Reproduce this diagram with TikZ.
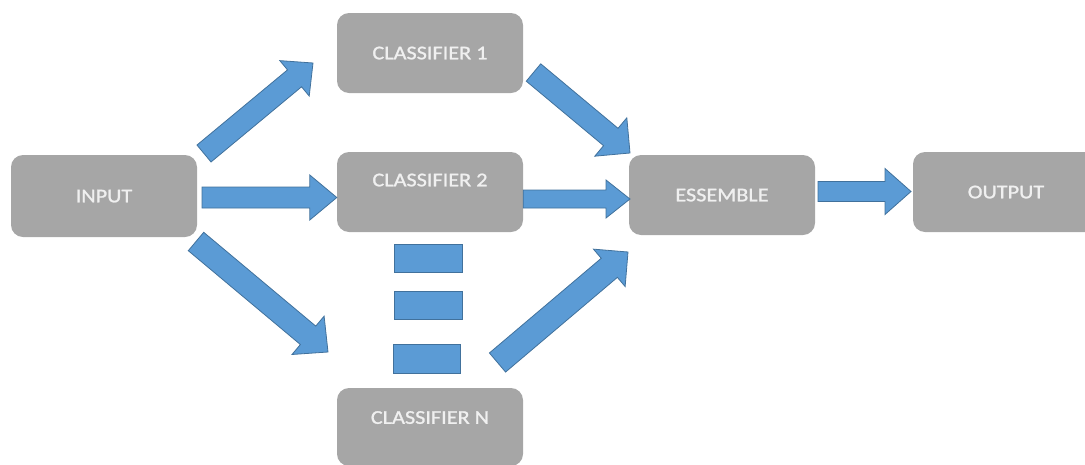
\documentclass[tikz,border=0pt]{standalone}
\usepackage{fontspec}
\usetikzlibrary{calc}
\newfontfamily\boxfont[FakeStretch=1.14, FakeBold=1.2]{Carlito}

\definecolor{boxgray}{HTML}{A6A6A6}
\definecolor{boxtext}{HTML}{F0F0F0}
\definecolor{arrowfill}{HTML}{5B9BD5}
\definecolor{arrowline}{HTML}{41719C}

% block arrow: #1 tail, #2 tip, #3 shaft half-width, #4 head half-width, #5 head length
\newcommand\blockarrow[5]{%
  \coordinate (bah) at ($(#2)!#5!(#1)$);
  \draw[flowarrow]
    ($(#1)!#3!90:(#2)$) -- ($(bah)!#3!90:(#2)$) -- ($(bah)!#4!90:(#2)$) --
    (#2) --
    ($(bah)!#4!-90:(#2)$) -- ($(bah)!#3!-90:(#2)$) -- ($(#1)!#3!-90:(#2)$) -- cycle;
}

\tikzset{
  stage/.style={rounded corners=12pt, fill=boxgray, text=boxtext,
    minimum width=186pt, minimum height=80pt, inner sep=0pt,
    text height=12.6pt, text depth=0pt,
    font=\boxfont\fontsize{19.5pt}{22pt}\selectfont},
  flowarrow/.style={fill=arrowfill, draw=arrowline, line width=0.8pt, line join=miter},
  ellipsisbar/.style={fill=arrowfill, draw=arrowline, line width=0.8pt,
    minimum width=68pt, minimum height=28pt, inner sep=0pt},
}

\begin{document}
\begin{tikzpicture}[x=1pt, y=-1pt]
\useasboundingbox (0,0) rectangle (1085,464);
\clip (0,0) rectangle (1085,464);

% stages
\node[stage, minimum height=82pt] (in) at (104,196) {INPUT};
\node[stage] (c1) at (430,53) {CLASSIFIER 1};
\node[stage, text depth=24pt] (c2) at (430,192) {CLASSIFIER 2};
\node[stage, minimum height=78pt, text depth=19pt] (cn) at (430,427) {CLASSIFIER N};
\node[stage] (ess) at (722,195) {ESSEMBLE};
\node[stage] (out) at (1006,192) {OUTPUT};

% vertical ellipsis between classifier 2 and classifier N
\node[ellipsisbar] (gap1) at (428,258) {};
\node[ellipsisbar] (gap2) at (428,305) {};
\node[ellipsisbar, minimum width=67pt, minimum height=29pt] (gap3) at (426.5,358.5) {};

% arrow end points
\coordinate (in-c1-s) at (204,153.5);
\coordinate (in-c1-t) at (313,63);
\coordinate (in-c2-s) at (202,197.5);
\coordinate (in-c2-t) at (c2.west |- in-c2-s);
\coordinate (in-cn-s) at (196,241.5);
\coordinate (in-cn-t) at (328,352);
\coordinate (c1-ess-s) at (533.5,72.5);
\coordinate (c1-ess-t) at (630,153);
\coordinate (c2-ess-s) at (c2.east |- 0,199);
\coordinate (c2-ess-t) at (630,199);
\coordinate (cn-ess-s) at (497.5,362.5);
\coordinate (cn-ess-t) at (628,252);
\coordinate (ess-out-s) at (818,191.5);
\coordinate (ess-out-t) at (911,191.5);

% connectors
\blockarrow{in-c1-s}{in-c1-t}{11pt}{23pt}{24pt}
\blockarrow{in-c2-s}{in-c2-t}{10.5pt}{22.5pt}{27pt}
\blockarrow{in-cn-s}{in-cn-t}{12pt}{25pt}{26pt}
\blockarrow{c1-ess-s}{c1-ess-t}{11.3pt}{25pt}{25pt}
\blockarrow{c2-ess-s}{c2-ess-t}{9pt}{19pt}{24pt}
\blockarrow{cn-ess-s}{cn-ess-t}{12.5pt}{24.5pt}{24.5pt}
\blockarrow{ess-out-s}{ess-out-t}{10pt}{23pt}{26pt}
\end{tikzpicture}
\end{document}
